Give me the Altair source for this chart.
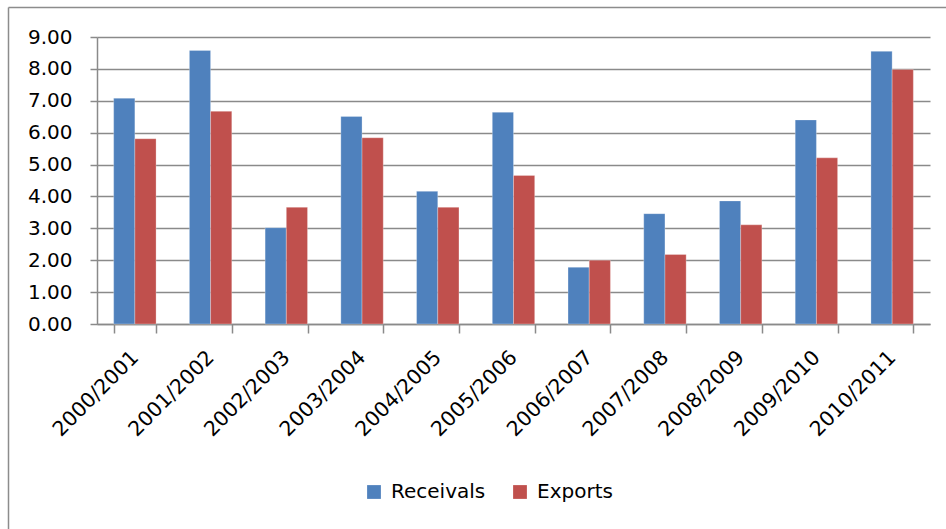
import altair as alt
import pandas as pd

seasons = ["2000/2001", "2001/2002", "2002/2003", "2003/2004", "2004/2005",
           "2005/2006", "2006/2007", "2007/2008", "2008/2009", "2009/2010", "2010/2011"]
receivals = [7.08, 8.58, 3.02, 6.51, 4.16, 6.64, 1.78, 3.46, 3.86, 6.40, 8.55]
exports = [5.81, 6.67, 3.66, 5.84, 3.66, 4.66, 2.00, 2.18, 3.11, 5.21, 7.98]
series = ["Receivals", "Exports"]
colors = ["#4F81BD", "#C0504D"]
y_ticks = [0, 1, 2, 3, 4, 5, 6, 7, 8, 9]

rows = []
for s, r, e in zip(seasons, receivals, exports):
    rows.append({"season": s, "series": "Receivals", "value": r})
    rows.append({"season": s, "series": "Exports", "value": e})
df = pd.DataFrame(rows)

FONT = "DejaVu Sans"
GRID = "#8a8a8a"

bars = alt.Chart(df).mark_bar(strokeWidth=0.8, strokeOpacity=0.35, stroke="#ffffff").encode(
    x=alt.X("season:N", sort=seasons, title=None,
            scale=alt.Scale(paddingInner=0.44, paddingOuter=0.22),
            axis=alt.Axis(labelAngle=-45, labelAlign="right", labelBaseline="middle",
                          labelFont=FONT, labelFontSize=20.5, labelColor="#000000",
                          labelPadding=21, tickBand="extent", tickSize=9,
                          tickColor=GRID, tickWidth=1.5, domainColor=GRID,
                          domainWidth=1.5, grid=False)),
    xOffset=alt.XOffset("series:N", sort=series,
                        scale=alt.Scale(paddingInner=0, paddingOuter=0)),
    y=alt.Y("value:Q", title=None,
            scale=alt.Scale(domain=[0, 9], nice=False, zero=True),
            axis=alt.Axis(values=y_ticks, format=".2f", labelFont=FONT,
                          labelFontSize=20, labelColor="#000000", labelPadding=18,
                          tickSize=7, tickColor=GRID, tickWidth=1.5,
                          domainColor=GRID, domainWidth=1.5,
                          grid=True, gridColor=GRID, gridWidth=1.5)),
    color=alt.Color("series:N", sort=series,
                    scale=alt.Scale(domain=series, range=colors),
                    legend=alt.Legend(title=None, orient="none", legendX=267, legendY=445,
                                      direction="horizontal", symbolType="square",
                                      symbolSize=190, symbolStrokeWidth=0,
                                      labelFont=FONT, labelFontSize=20,
                                      labelColor="#000000", labelOffset=7,
                                      columnPadding=24)),
)

frame_data = alt.Data(values=[{}])
left_edge = alt.Chart(frame_data).mark_rule(color="#8c8c8c", strokeWidth=1.5).encode(
    x=alt.value(-88.5), y=alt.value(-29.5), y2=alt.value(600))
top_edge = alt.Chart(frame_data).mark_rule(color="#8c8c8c", strokeWidth=1.5).encode(
    x=alt.value(-88.5), x2=alt.value(900), y=alt.value(-29.5))

chart = alt.layer(bars, left_edge, top_edge).properties(
    width=833, height=287,
    autosize=alt.AutoSizeParams(type="none"),
    padding={"left": 97, "top": 37, "right": 16, "bottom": 205},
    background="white",
).configure_view(stroke=None)

chart.save("out.html", embed_options={"renderer": "svg", "actions": False})
